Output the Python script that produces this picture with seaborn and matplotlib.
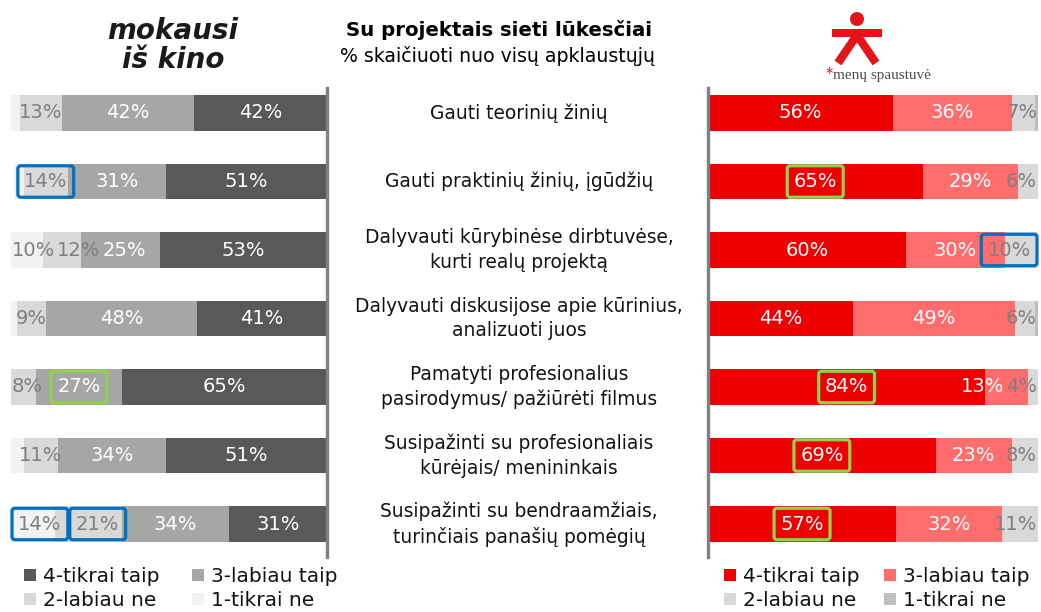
import numpy as np
import pandas as pd
import matplotlib
matplotlib.use("Agg")
import matplotlib.pyplot as plt
import seaborn as sns
from matplotlib.patches import Patch, Circle, Rectangle
from matplotlib.lines import Line2D
from matplotlib.transforms import blended_transform_factory

# ---- data -------------------------------------------------------------
items = [
    "Gauti teorinių žinių",
    "Gauti praktinių žinių, įgūdžių",
    "Dalyvauti kūrybinėse dirbtuvėse,\nkurti realų projektą",
    "Dalyvauti diskusijose apie kūrinius,\nanalizuoti juos",
    "Pamatyti profesionalius\npasirodymus/ pažiūrėti filmus",
    "Susipažinti su profesionaliais\nkūrėjais/ menininkais",
    "Susipažinti su bendraamžiais,\nturinčiais panašių pomėgių",
]
levels = ["4-tikrai taip", "3-labiau taip", "2-labiau ne", "1-tikrai ne"]

# "mokausi iš kino"
kino_4 = [42, 51, 53, 41, 65, 51, 31]
kino_3 = [42, 31, 25, 48, 27, 34, 34]
kino_2 = [13, 14, 12, 9, 8, 11, 21]
kino_1 = [3, 3, 10, 2, 1, 4, 14]

# "menų spaustuvė"
sp_4 = [56, 65, 60, 44, 84, 69, 57]
sp_3 = [36, 29, 30, 49, 13, 23, 32]
sp_2 = [7, 6, 10, 6, 4, 8, 11]
sp_1 = [1, 0, 0, 1, 0, 0, 0]

title = "Su projektais sieti lūkesčiai"
subtitle = "% skaičiuoti nuo visų apklaustųjų"

# ---- styling ----------------------------------------------------------
sns.set_theme(style="white")
plt.rcParams["font.family"] = ["DejaVu Sans"]

GREEN = "#92D050"
BLUE = "#0070C0"
kino_colors = {"4-tikrai taip": "#595959", "3-labiau taip": "#A6A6A6",
               "2-labiau ne": "#D9D9D9", "1-tikrai ne": "#F2F2F2"}
kino_text = {"4-tikrai taip": "white", "3-labiau taip": "white",
             "2-labiau ne": "#7F7F7F", "1-tikrai ne": "#7F7F7F"}
sp_colors = {"4-tikrai taip": "#EE0000", "3-labiau taip": "#FF6D6D",
             "2-labiau ne": "#D9D9D9", "1-tikrai ne": "#BFBFBF"}
sp_text = {"4-tikrai taip": "white", "3-labiau taip": "white",
           "2-labiau ne": "#7F7F7F", "1-tikrai ne": "#7F7F7F"}
min_label = {"1-tikrai ne": 5}

kino_marks = {("2-labiau ne", 1): BLUE, ("3-labiau taip", 4): GREEN,
              ("1-tikrai ne", 6): BLUE, ("2-labiau ne", 6): BLUE}
sp_marks = {("4-tikrai taip", 1): GREEN, ("2-labiau ne", 2): BLUE,
            ("4-tikrai taip", 4): GREEN, ("4-tikrai taip", 5): GREEN,
            ("4-tikrai taip", 6): GREEN}

W, H = 1041, 612
fig = plt.figure(figsize=(W / 100, H / 100), dpi=100)
fig.patch.set_facecolor("white")

# pixel-space canvas for decorations
bg = fig.add_axes([0, 0, 1, 1], zorder=0)
bg.set_xlim(0, W)
bg.set_ylim(H, 0)
bg.axis("off")


def px_axes(x0, x1, y0, y1):
    return fig.add_axes([x0 / W, 1 - y1 / H, (x1 - x0) / W, (y1 - y0) / H], zorder=1)


ax_l = px_axes(11, 327, 88, 557)
ax_r = px_axes(708, 1038, 88, 557)

row0, step = 113, 68.5
ylim = (6 + (557 - (row0 + 6 * step)) / step, -(row0 - 88) / step)


def draw_panel(ax, values, colors, text_colors, marks):
    df = pd.DataFrame(dict(zip(levels, values)))
    df["item"] = items
    cum = df[levels].cumsum(axis=1)
    for lev in reversed(levels):
        sns.barplot(x=cum[lev].values, y=df["item"].values, order=items,
                    color=colors[lev], orient="h", width=0.52, linewidth=0,
                    errorbar=None, saturation=1, ax=ax)
    rows = [[] for _ in items]
    for lev in levels:
        for i, v in enumerate(df[lev]):
            if v < min_label.get(lev, 1):
                continue
            mid = cum[lev].iloc[i] - v / 2
            kw = {}
            if (lev, i) in marks:
                kw["bbox"] = dict(boxstyle="round,pad=0.32,rounding_size=0.15",
                                  fc="none", ec=marks[(lev, i)], lw=2.3)
            t = ax.text(mid, i, f"{v}%", ha="center", va="center", fontsize=14,
                        color=text_colors[lev], zorder=5, clip_on=False, **kw)
            rows[i].append(t)
    ax.set_ylim(*ylim)
    ax.set_xlabel("")
    ax.set_ylabel("")
    ax.set_xticks([])
    ax.set_yticks([])
    ax.set_facecolor("none")
    for s in ax.spines.values():
        s.set_visible(False)
    return rows


def fit_labels(ax, rows, side, gap=2):
    """Keep value labels inside the bar area and off each other."""
    fig.canvas.draw()
    r = fig.canvas.get_renderer()
    box = ax.get_window_extent(r)
    inv = ax.transData.inverted()

    def shift(t, dx):
        x, y = t.get_position()
        d = ax.transData.transform((x, y))
        t.set_position((inv.transform((d[0] + dx, d[1]))[0], y))

    for texts in rows:
        spans = []
        for t in texts:
            p = t.get_bbox_patch()
            e = (p if p is not None else t).get_window_extent(r)
            spans.append([t, e.x0, e.x1])
        spans.sort(key=lambda s: s[1])
        if side == "left":
            bound = box.x0 + 1
            for s in spans:
                dx = max(0.0, bound - s[1])
                shift(s[0], dx)
                bound = s[2] + dx + gap
        else:
            bound = box.x1 - 1
            for s in reversed(spans):
                dx = min(0.0, bound - s[2])
                shift(s[0], dx)
                bound = s[1] + dx - gap


rows_l = draw_panel(ax_l, [kino_4, kino_3, kino_2, kino_1], kino_colors, kino_text, kino_marks)
ax_l.set_xlim(100, 0)
ax_l.spines["right"].set_visible(True)
ax_l.spines["right"].set_color("#808080")
ax_l.spines["right"].set_linewidth(2.4)

rows_r = draw_panel(ax_r, [sp_4, sp_3, sp_2, sp_1], sp_colors, sp_text, sp_marks)
ax_r.set_xlim(0, 100)
ax_r.spines["left"].set_visible(True)
ax_r.spines["left"].set_color("#808080")
ax_r.spines["left"].set_linewidth(2.4)

# item names between the panels
tr = blended_transform_factory(fig.transFigure, ax_l.transData)
for i, name in enumerate(items):
    fig.text(519 / W, i, name, transform=tr, ha="center", va="center",
             fontsize=13.4, color="#111111", linespacing=1.4)

# titles
bg.text(499, 30, title, ha="center", va="center", fontsize=14.2,
        fontweight="bold", color="black")
bg.text(497, 56, subtitle, ha="center", va="center", fontsize=13.6,
        color="black")

# left logo
bg.text(173, 31, "mokausi", ha="center", va="center", fontsize=20,
        fontstyle="italic", fontweight="bold", color="#1a1a1a")
bg.text(173, 60, "iš kino", ha="center", va="center", fontsize=20,
        fontstyle="italic", fontweight="bold", color="#1a1a1a")

# right logo
RED = "#E3151B"
bg.add_patch(Circle((857, 19), 7, color=RED, lw=0))
bg.add_patch(Rectangle((832, 29), 50, 8, color=RED, lw=0))
bg.add_line(Line2D([857, 838], [35, 63], color=RED, lw=6, solid_capstyle="butt"))
bg.add_line(Line2D([857, 876], [35, 63], color=RED, lw=6, solid_capstyle="butt"))
bg.text(826, 75, "*", ha="left", va="center", fontsize=10.5, color=RED)
bg.text(833, 76, "menų spaustuvė", ha="left", va="center", fontsize=11,
        family="Liberation Serif", color="#4d4d4d")


# legends
def panel_legend(ax, colors, x, colspace):
    order = ["4-tikrai taip", "2-labiau ne", "3-labiau taip", "1-tikrai ne"]
    handles = [Patch(facecolor=colors[k], edgecolor="none", label=k) for k in order]
    leg = ax.legend(handles=handles, ncol=2, loc="upper left",
                    bbox_to_anchor=(x / W, 1 - 567 / H), bbox_transform=fig.transFigure,
                    frameon=False, fontsize=14.5, handlelength=0.6, handleheight=0.6,
                    handletextpad=0.35, columnspacing=colspace, labelspacing=0.25,
                    borderaxespad=0, borderpad=0)
    for txt in leg.get_texts():
        txt.set_color("#111111")


panel_legend(ax_l, kino_colors, 24, 1.6)
panel_legend(ax_r, sp_colors, 724, 1.2)

fit_labels(ax_l, rows_l, "left")
fit_labels(ax_r, rows_r, "right")

fig.savefig("out.png", dpi=100, facecolor="white")
